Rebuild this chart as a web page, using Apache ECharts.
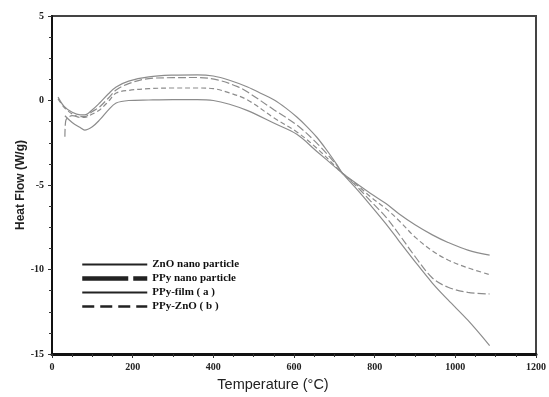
<!DOCTYPE html>
<html>
<head>
<meta charset="utf-8">
<script src="https://cdn.jsdelivr.net/npm/echarts@6/dist/echarts.min.js"></script>
<style>
  html, body { margin: 0; padding: 0; background: #fff; }
  #chart { width: 549px; height: 397px; }
</style>
</head>
<body>
<div id="chart"></div>
<script>
// legend names
var names = ['ZnO nano particle', 'PPy nano particle', 'PPy-film ( a )', 'PPy-ZnO ( b )'];

// curve A (highest plateau, ends lowest)
var tempA = [15, 30, 50, 70, 81, 100, 118, 140, 159, 190, 240, 300, 360, 400, 440, 485, 520, 551, 580, 607, 630, 656, 680, 705, 720, 754, 790, 828, 860, 901, 943, 982, 1031, 1085];
var heatA = [0.2, -0.35, -0.7, -0.85, -0.85, -0.55, -0.15, 0.4, 0.8, 1.15, 1.4, 1.5, 1.52, 1.45, 1.2, 0.8, 0.4, 0.03, -0.45, -0.98, -1.5, -2.16, -2.9, -3.75, -4.3, -5.2, -6.2, -7.3, -8.3, -9.56, -10.8, -11.8, -13.0, -14.5];

// curve B
var tempB = [32, 34, 50, 70, 81, 100, 118, 140, 159, 190, 240, 300, 360, 410, 460, 485, 551, 607, 656, 705, 720, 754, 790, 828, 860, 901, 943, 982, 1031, 1085];
var heatB = [-2.15, -1.2, -0.9, -0.95, -0.95, -0.65, -0.38, 0.15, 0.62, 1.0, 1.3, 1.35, 1.36, 1.22, 0.82, 0.5, -0.56, -1.45, -2.51, -3.8, -4.3, -5.05, -5.95, -6.9, -7.9, -9.26, -10.5, -11.05, -11.35, -11.45];

// curve C (dashed)
var tempC = [15, 30, 50, 70, 81, 100, 118, 140, 159, 190, 240, 300, 360, 400, 440, 485, 551, 607, 656, 705, 720, 754, 790, 828, 860, 901, 943, 982, 1031, 1085];
var heatC = [0.1, -0.4, -0.8, -1.0, -1.0, -0.8, -0.56, -0.05, 0.44, 0.6, 0.7, 0.74, 0.74, 0.7, 0.45, 0.03, -1.04, -1.86, -2.81, -3.95, -4.3, -4.95, -5.7, -6.4, -7.1, -8.1, -8.9, -9.44, -9.9, -10.3];

// curve D (lowest plateau, ends highest)
var tempD = [32, 50, 70, 81, 100, 118, 140, 159, 190, 240, 300, 360, 400, 440, 485, 551, 607, 656, 705, 720, 754, 790, 828, 860, 901, 943, 982, 1031, 1085];
var heatD = [-0.9, -1.3, -1.6, -1.75, -1.55, -1.15, -0.55, -0.15, 0.0, 0.03, 0.05, 0.05, 0.0, -0.22, -0.6, -1.35, -2.0, -3.0, -4.0, -4.3, -4.9, -5.5, -6.1, -6.7, -7.37, -7.95, -8.4, -8.85, -9.15];

function pairs(xs, ys) {
  var out = [];
  for (var i = 0; i < xs.length; i++) {
    out.push([xs[i], ys[i]]);
  }
  return out;
}

var chart = echarts.init(document.getElementById('chart'), null, { renderer: 'canvas' });

var curveColor = '#8c8c8c';
var serif = '"Liberation Serif", "DejaVu Serif", serif';
var sans = '"Liberation Sans", Arial, sans-serif';

function mkSeries(name, data, dash) {
  return {
    name: name,
    type: 'line',
    data: data,
    symbol: 'none',
    smooth: 0.35,
    lineStyle: { color: curveColor, width: 1.2, type: dash },
    itemStyle: { color: curveColor },
    emphasis: { disabled: true }
  };
}

var option = {
  animation: false,
  backgroundColor: '#fff',
  grid: {
    left: 52, top: 16, right: 7, bottom: 43,
    show: true,
    borderColor: '#444',
    borderWidth: 2
  },
  legend: {
    orient: 'vertical',
    left: 75,
    top: 254,
    itemWidth: 65,
    itemHeight: 12,
    itemGap: 3,
    selectedMode: false,
    itemStyle: { color: 'rgba(0,0,0,0)', borderColor: 'rgba(0,0,0,0)', borderWidth: 0, opacity: 0 },
    textStyle: { fontFamily: serif, fontWeight: 'bold', fontSize: 11, color: '#111' },
    data: [
      { name: names[0], lineStyle: { color: '#222', width: 2, type: 'solid' } },
      { name: names[1], lineStyle: { color: '#222', width: 4.5, type: [46, 5] } },
      { name: names[2], lineStyle: { color: '#222', width: 2, type: 'solid' } },
      { name: names[3], lineStyle: { color: '#222', width: 2.5, type: [12, 6] } }
    ]
  },
  xAxis: {
    type: 'value',
    min: 0,
    max: 1200,
    interval: 200,
    name: 'Temperature (\u00b0C)',
    nameLocation: 'middle',
    nameGap: 23,
    nameMoveOverlap: false,
    nameTextStyle: { fontFamily: sans, fontSize: 14.5, color: '#222', padding: [0, 42, 0, 0] },
    axisLine: { show: true, onZero: false, lineStyle: { color: '#111', width: 3 } },
    axisTick: { show: true, inside: false, length: 4, lineStyle: { color: '#333', width: 1 } },
    minorTick: { show: true, splitNumber: 4, length: 3, lineStyle: { color: '#333', width: 1 } },
    axisLabel: { fontFamily: serif, fontWeight: 'bold', fontSize: 10, color: '#222', margin: 8,
      formatter: function (v) { return String(v); } },
    splitLine: { show: false }
  },
  yAxis: {
    type: 'value',
    min: -15,
    max: 5,
    interval: 5,
    name: 'Heat Flow (W/g)',
    nameLocation: 'middle',
    nameGap: 25,
    nameMoveOverlap: false,
    nameTextStyle: { fontFamily: sans, fontWeight: 'bold', fontSize: 12, color: '#222' },
    axisLine: { show: true, onZero: false, lineStyle: { color: '#111', width: 2 } },
    axisTick: { show: true, inside: false, length: 4, lineStyle: { color: '#333', width: 1 } },
    minorTick: { show: true, splitNumber: 4, length: 3, lineStyle: { color: '#333', width: 1 } },
    axisLabel: { fontFamily: serif, fontWeight: 'bold', fontSize: 10, color: '#222', margin: 8 },
    splitLine: { show: false }
  },
  series: [
    mkSeries(names[0], pairs(tempD, heatD), 'solid'),
    mkSeries(names[1], pairs(tempC, heatC), [5, 3]),
    mkSeries(names[2], pairs(tempA, heatA), 'solid'),
    mkSeries(names[3], pairs(tempB, heatB), [8, 3])
  ]
};

chart.setOption(option);
</script>
</body>
</html>
